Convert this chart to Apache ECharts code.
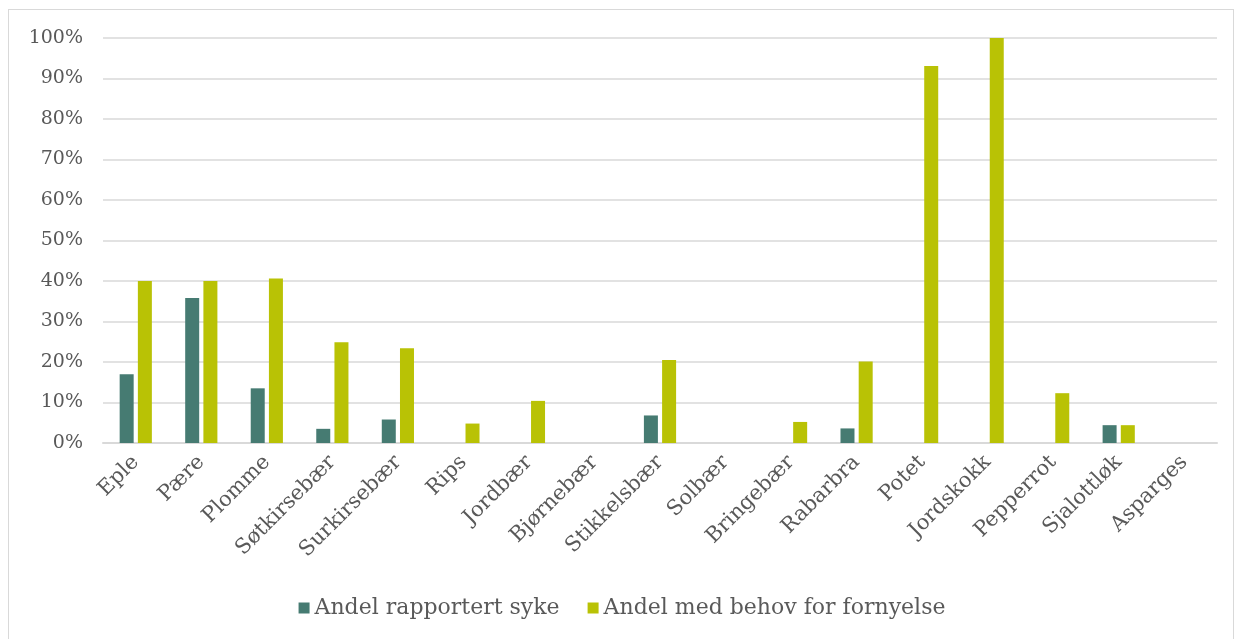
<!DOCTYPE html>
<html>
<head>
<meta charset="utf-8">
<script src="https://cdn.jsdelivr.net/npm/echarts@6/dist/echarts.min.js"></script>
<style>
  html, body { margin:0; padding:0; background:#fff; }
  #frame { position:absolute; left:8px; top:9px; width:1226px; height:640px; border:1px solid #d9d9d9; box-sizing:border-box; }
  #main { position:absolute; left:0; top:0; width:1244px; height:639px; }
</style>
</head>
<body>
<div id="frame"></div>
<div id="main"></div>
<script>
var categories = ['Eple','Pære','Plomme','Søtkirsebær','Surkirsebær','Rips','Jordbær','Bjørnebær','Stikkelsbær','Solbær','Bringebær','Rabarbra','Potet','Jordskokk','Pepperrot','Sjalottløk','Asparges'];
var syke = [17, 35.8, 13.5, 3.5, 5.8, 0, 0, 0, 6.8, 0, 0, 3.6, 0, 0, 0, 4.4, 0];
var fornyelse = [40, 40, 40.6, 24.9, 23.4, 4.8, 10.4, 0, 20.5, 0, 5.2, 20.1, 93.1, 100, 12.3, 4.4, 0];
var seriesNames = ['Andel rapportert syke', 'Andel med behov for fornyelse'];
var colors = ['#467b72', '#b9c205'];

var serif = '"DejaVu Serif", serif';
var myChart = echarts.init(document.getElementById('main'));
var option = {
    animation: false,
    grid: { left: 103, right: 27, top: 38, bottom: 196, containLabel: false },
    legend: {
        bottom: 15,
        left: 'center',
        itemWidth: 11,
        itemHeight: 11,
        itemGap: 28,
        icon: 'rect',
        textStyle: { fontFamily: serif, fontSize: 22, color: '#595959' },
        data: seriesNames
    },
    xAxis: {
        type: 'category',
        data: categories,
        axisLine: { lineStyle: { color: '#d9d9d9', width: 2 } },
        axisTick: { show: false },
        axisLabel: { rotate: 45, interval: 0, margin: 16, fontFamily: serif, fontSize: 21, color: '#595959' }
    },
    yAxis: {
        type: 'value',
        min: 0,
        max: 100,
        interval: 10,
        axisLine: { show: false },
        axisTick: { show: false },
        splitLine: { lineStyle: { color: '#d9d9d9', width: 1.5 } },
        axisLabel: { formatter: '{value}%', margin: 20, fontFamily: serif, fontSize: 19, color: '#595959' }
    },
    series: [
        { name: seriesNames[0], type: 'bar', data: syke, barWidth: 14, barGap: '30%', itemStyle: { color: colors[0] } },
        { name: seriesNames[1], type: 'bar', data: fornyelse, barWidth: 14, barGap: '30%', itemStyle: { color: colors[1] } }
    ]
};
myChart.setOption(option);
window.onresize = myChart.resize;
</script>
</body>
</html>
